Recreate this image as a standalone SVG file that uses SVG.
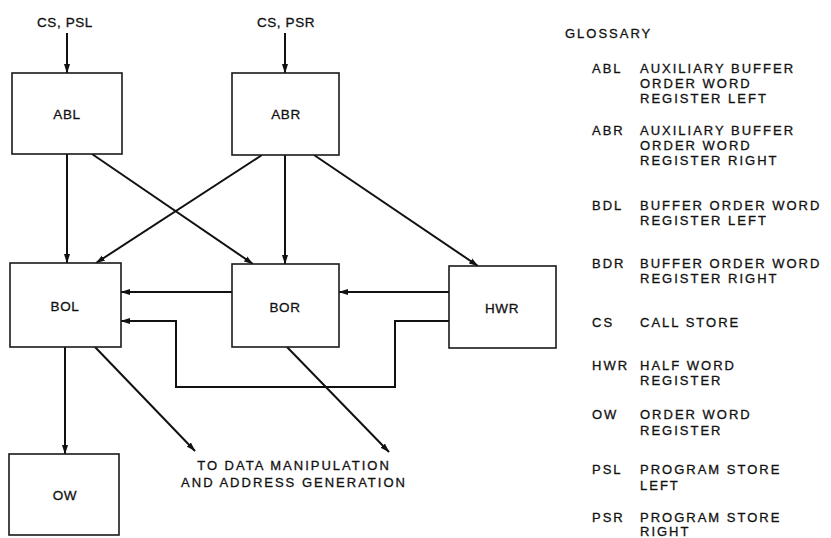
<svg xmlns="http://www.w3.org/2000/svg" width="831" height="538" viewBox="0 0 831 538">
<style>
.box{fill:#fff;stroke:#1a1a1a;stroke-width:1.6}
.lbl{font-family:"Liberation Sans",Arial,sans-serif;font-size:13.5px;fill:#111;stroke:#111;stroke-width:0.3;text-anchor:middle;letter-spacing:0.6px}
.txt{font-family:"Liberation Sans",Arial,sans-serif;font-size:13px;fill:#111;stroke:#111;stroke-width:0.3;letter-spacing:2px}
.con{fill:none;stroke:#111;stroke-width:2;marker-end:url(#ah)}
</style>
<defs>
<marker id="ah" markerWidth="10" markerHeight="8" refX="9" refY="4" orient="auto" markerUnits="userSpaceOnUse">
<path d="M0,1 L9.5,4 L0,7 Z" fill="#111"/>
</marker>
</defs>
<rect width="831" height="538" fill="#fff"/>

<g id="connectors">
<line class="con" x1="67" y1="33" x2="67" y2="73"/>
<line class="con" x1="285" y1="33" x2="285" y2="73"/>
<line class="con" x1="67" y1="154" x2="67" y2="263"/>
<line class="con" x1="92" y1="154" x2="253" y2="264"/>
<line class="con" x1="262" y1="155" x2="96" y2="263"/>
<line class="con" x1="285" y1="155" x2="285" y2="264"/>
<line class="con" x1="314" y1="155" x2="478" y2="266"/>
<line class="con" x1="232" y1="292" x2="121" y2="292"/>
<line class="con" x1="449" y1="292" x2="339" y2="292"/>
<path class="con" d="M449,321 L395,321 L395,387 L176,387 L176,321 L121,321"/>
<line class="con" x1="65" y1="347" x2="65" y2="454"/>
<line class="con" x1="95" y1="347" x2="195" y2="451"/>
<line class="con" x1="287" y1="347" x2="389" y2="452"/>
</g>

<g id="CS_PSL"><text class="lbl" x="65" y="27">CS, PSL</text></g>
<g id="CS_PSR"><text class="lbl" x="286" y="27">CS, PSR</text></g>

<g id="ABL"><rect class="box" x="12" y="73" width="110" height="81"/><text class="lbl" x="67" y="119">ABL</text></g>
<g id="ABR"><rect class="box" x="232" y="73" width="107" height="82"/><text class="lbl" x="286" y="119">ABR</text></g>
<g id="BOL"><rect class="box" x="10" y="263" width="111" height="84"/><text class="lbl" x="65" y="311">BOL</text></g>
<g id="BOR"><rect class="box" x="232" y="264" width="107" height="83"/><text class="lbl" x="285" y="312">BOR</text></g>
<g id="HWR"><rect class="box" x="449" y="266" width="107" height="82"/><text class="lbl" x="502" y="313">HWR</text></g>
<g id="OW"><rect class="box" x="9" y="454" width="110" height="81"/><text class="lbl" x="65" y="500">OW</text></g>

<g id="output_label">
<text class="txt" x="294" y="470" text-anchor="middle">TO DATA MANIPULATION</text>
<text class="txt" x="294" y="487" text-anchor="middle">AND ADDRESS GENERATION</text>
</g>

<g id="glossary">
<text class="txt" x="565" y="38">GLOSSARY</text>
<text class="txt" x="592" y="73">ABL</text>
<text class="txt" x="640" y="73">AUXILIARY BUFFER</text>
<text class="txt" x="640" y="88">ORDER WORD</text>
<text class="txt" x="640" y="103">REGISTER LEFT</text>
<text class="txt" x="592" y="135">ABR</text>
<text class="txt" x="640" y="135">AUXILIARY BUFFER</text>
<text class="txt" x="640" y="150">ORDER WORD</text>
<text class="txt" x="640" y="165">REGISTER RIGHT</text>
<text class="txt" x="592" y="210">BDL</text>
<text class="txt" x="640" y="210">BUFFER ORDER WORD</text>
<text class="txt" x="640" y="225">REGISTER LEFT</text>
<text class="txt" x="592" y="268">BDR</text>
<text class="txt" x="640" y="268">BUFFER ORDER WORD</text>
<text class="txt" x="640" y="283">REGISTER RIGHT</text>
<text class="txt" x="592" y="327">CS</text>
<text class="txt" x="640" y="327">CALL STORE</text>
<text class="txt" x="592" y="370">HWR</text>
<text class="txt" x="640" y="370">HALF WORD</text>
<text class="txt" x="640" y="385">REGISTER</text>
<text class="txt" x="592" y="419">OW</text>
<text class="txt" x="640" y="419">ORDER WORD</text>
<text class="txt" x="640" y="435">REGISTER</text>
<text class="txt" x="592" y="474">PSL</text>
<text class="txt" x="640" y="474">PROGRAM STORE</text>
<text class="txt" x="640" y="490">LEFT</text>
<text class="txt" x="592" y="522">PSR</text>
<text class="txt" x="640" y="522">PROGRAM STORE</text>
<text class="txt" x="640" y="536">RIGHT</text>
</g>
</svg>
